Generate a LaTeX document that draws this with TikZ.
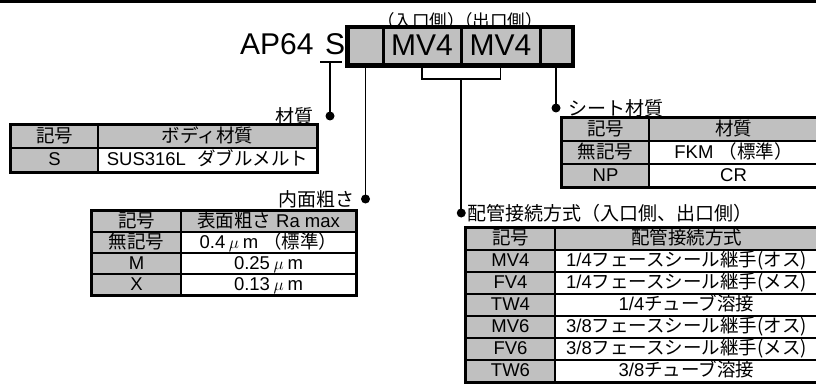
\documentclass[tikz,border=0pt]{standalone}
\usepackage{fontspec}
\setmainfont{Liberation Sans}
\newfontfamily\jp{Noto Sans CJK JP}
\usetikzlibrary{calc}
\definecolor{cellgrey}{HTML}{C0C0C0}
\tikzset{
  cellbase/.style={draw=black, line width=1.7pt, inner sep=0pt,
    font=\fontsize{18.5}{20}\selectfont, text height=14pt, text depth=2.5pt},
  gcell/.style={cellbase, fill=cellgrey},
  wcell/.style={cellbase, fill=white},
  outerframe/.style={draw=black, line width=3pt},
  conn/.style={line width=1.6pt},
  thinconn/.style={line width=1.2pt},
  dotn/.style={circle, fill=black, inner sep=0pt, minimum size=9pt},
  lbl/.style={font=\jp\fontsize{19}{21}\selectfont, inner sep=0pt},
  codecell/.style={draw=black, line width=3pt, fill=cellgrey, inner sep=0pt,
    minimum height=37pt, font=\fontsize{30}{32}\selectfont, text height=21.5pt, text depth=4pt},
  bigtext/.style={font=\fontsize{30}{32}\selectfont, inner sep=0pt},
  sidetext/.style={font=\jp\fontsize{17.5}{19}\selectfont, inner sep=0pt},
}
\newcommand\umu{\hspace{0.2em}$\mu$\hspace{0.2em}}
\begin{document}
\begin{tikzpicture}[x=1pt, y=-1pt]
\useasboundingbox (0,0) rectangle (816,385);
\clip (0,0) rectangle (816,385);
\fill[black] (0,0) rectangle (816,3);

% model code
\node[bigtext, anchor=base west] (ap) at (240,55) {AP64};
\node[bigtext, anchor=base west] (s) at (325,55) {S};
\coordinate (sUL) at (320,62);
\coordinate (sUR) at (342,62);
\coordinate (sU) at (330,62);
\draw[conn] (sUL) -- (sUR);

\node[codecell, minimum width=35pt] (c1) at (365.5,46.5) {};
\node[codecell, minimum width=78pt] (c2) at (422,46.5) {MV4};
\node[codecell, minimum width=79pt] (c3) at (500.5,46.5) {MV4};
\node[codecell, minimum width=32pt] (c4) at (556,46.5) {};
\draw[line width=3.5pt] (c1.north west) rectangle (c4.south east);

\node[sidetext] (in) at (421,21) {（入口側）};
\node[sidetext] (out) at (499,21) {（出口側）};

% connectors
\node[dotn] (d1) at (330,116) {};
\draw[conn] (sU) -- (d1.center);
\node[dotn] (d2) at (c1.south |- 0,199) {};
\draw[conn] (c1.south) -- (d2.center);
\coordinate (bL) at (c2.south |- 0,79);
\coordinate (bR) at (c3.south |- 0,79);
\draw[thinconn] (c2.south) -- (bL) -- (bR) -- (c3.south);
\coordinate (bM) at ($(bL)!0.5!(bR)$);
\node[dotn] (d3) at (bM |- 0,213) {};
\draw[conn] (bM) -- (d3.center);
\node[dotn] (d4) at (c4.south |- 0,108) {};
\draw[conn] (c4.south) -- (d4.center);

% labels
\node[lbl, anchor=east] (l1) at ([xshift=-16pt]d1.center) {材質};
\node[lbl, anchor=east] (l2) at ([xshift=-11pt]d2.center) {内面粗さ};
\node[lbl, anchor=west] (l3) at ([xshift=6pt]d3.center) {配管接続方式（入口側、出口側）};
\node[lbl, anchor=west] (l4) at ([xshift=12pt]d4.center) {シート材質};

% table 1: body material
\node[gcell, minimum width=87pt, minimum height=23pt] (ta1) at (54.5,136.5) {\jp 記号};
\node[gcell, minimum width=219pt, minimum height=23pt] (ta2) at (207.5,136.5) {\jp ボディ材質};
\node[gcell, minimum width=87pt, minimum height=24pt] (ta3) at (54.5,160) {S};
\node[wcell, minimum width=219pt, minimum height=24pt] (ta4) at (207.5,160) {SUS316L\hspace{0.6em}{\jp ダブルメルト}};
\draw[outerframe] (ta1.north west) rectangle (ta4.south east);

% table 2: surface roughness
\node[gcell, minimum width=89pt, minimum height=21pt] (tb1) at (136.5,221.5) {\jp 記号};
\node[gcell, minimum width=175pt, minimum height=21pt] (tb2) at (268.5,221.5) {{\jp 表面粗さ} Ra max};
\node[gcell, minimum width=89pt, minimum height=21pt] (tb3) at (136.5,242.5) {\jp 無記号};
\node[wcell, minimum width=175pt, minimum height=21pt] (tb4) at (268.5,242.5) {0.4\umu m\ {\jp （標準）}};
\node[gcell, minimum width=89pt, minimum height=21pt] (tb5) at (136.5,263.5) {M};
\node[wcell, minimum width=175pt, minimum height=21pt] (tb6) at (268.5,263.5) {0.25\umu m};
\node[gcell, minimum width=89pt, minimum height=21pt] (tb7) at (136.5,284.5) {X};
\node[wcell, minimum width=175pt, minimum height=21pt] (tb8) at (268.5,284.5) {0.13\umu m};
\draw[outerframe] (tb1.north west) rectangle (tb8.south east);

% table 3: seat material
\node[gcell, minimum width=87pt, minimum height=23pt] (tc1) at (605.5,129.5) {\jp 記号};
\node[gcell, minimum width=169pt, minimum height=23pt] (tc2) at (733.5,129.5) {\jp 材質};
\node[gcell, minimum width=87pt, minimum height=23pt] (tc3) at (605.5,152.5) {\jp 無記号};
\node[wcell, minimum width=169pt, minimum height=23pt] (tc4) at (733.5,152.5) {FKM\ {\jp （標準）}};
\node[gcell, minimum width=87pt, minimum height=23pt] (tc5) at (605.5,175.5) {NP};
\node[wcell, minimum width=169pt, minimum height=23pt] (tc6) at (733.5,175.5) {CR};
\draw[outerframe] (tc1.north west) rectangle (tc6.south east);

% table 4: connection
\node[gcell, minimum width=89pt, minimum height=22pt] (td1) at (510.5,239) {\jp 記号};
\node[gcell, minimum width=263pt, minimum height=22pt] (td2) at (686.5,239) {\jp 配管接続方式};
\node[gcell, minimum width=89pt, minimum height=22pt] (td3) at (510.5,261) {MV4};
\node[wcell, minimum width=263pt, minimum height=22pt] (td4) at (686.5,261) {1/4{\jp フェースシール継手(オス)}};
\node[gcell, minimum width=89pt, minimum height=22pt] (td5) at (510.5,283) {FV4};
\node[wcell, minimum width=263pt, minimum height=22pt] (td6) at (686.5,283) {1/4{\jp フェースシール継手(メス)}};
\node[gcell, minimum width=89pt, minimum height=22pt] (td7) at (510.5,305) {TW4};
\node[wcell, minimum width=263pt, minimum height=22pt] (td8) at (686.5,305) {1/4{\jp チューブ溶接}};
\node[gcell, minimum width=89pt, minimum height=22pt] (td9) at (510.5,327) {MV6};
\node[wcell, minimum width=263pt, minimum height=22pt] (td10) at (686.5,327) {3/8{\jp フェースシール継手(オス)}};
\node[gcell, minimum width=89pt, minimum height=22pt] (td11) at (510.5,349) {FV6};
\node[wcell, minimum width=263pt, minimum height=22pt] (td12) at (686.5,349) {3/8{\jp フェースシール継手(メス)}};
\node[gcell, minimum width=89pt, minimum height=22pt] (td13) at (510.5,371) {TW6};
\node[wcell, minimum width=263pt, minimum height=22pt] (td14) at (686.5,371) {3/8{\jp チューブ溶接}};
\draw[outerframe] (td1.north west) rectangle (td14.south east);
\end{tikzpicture}
\end{document}
